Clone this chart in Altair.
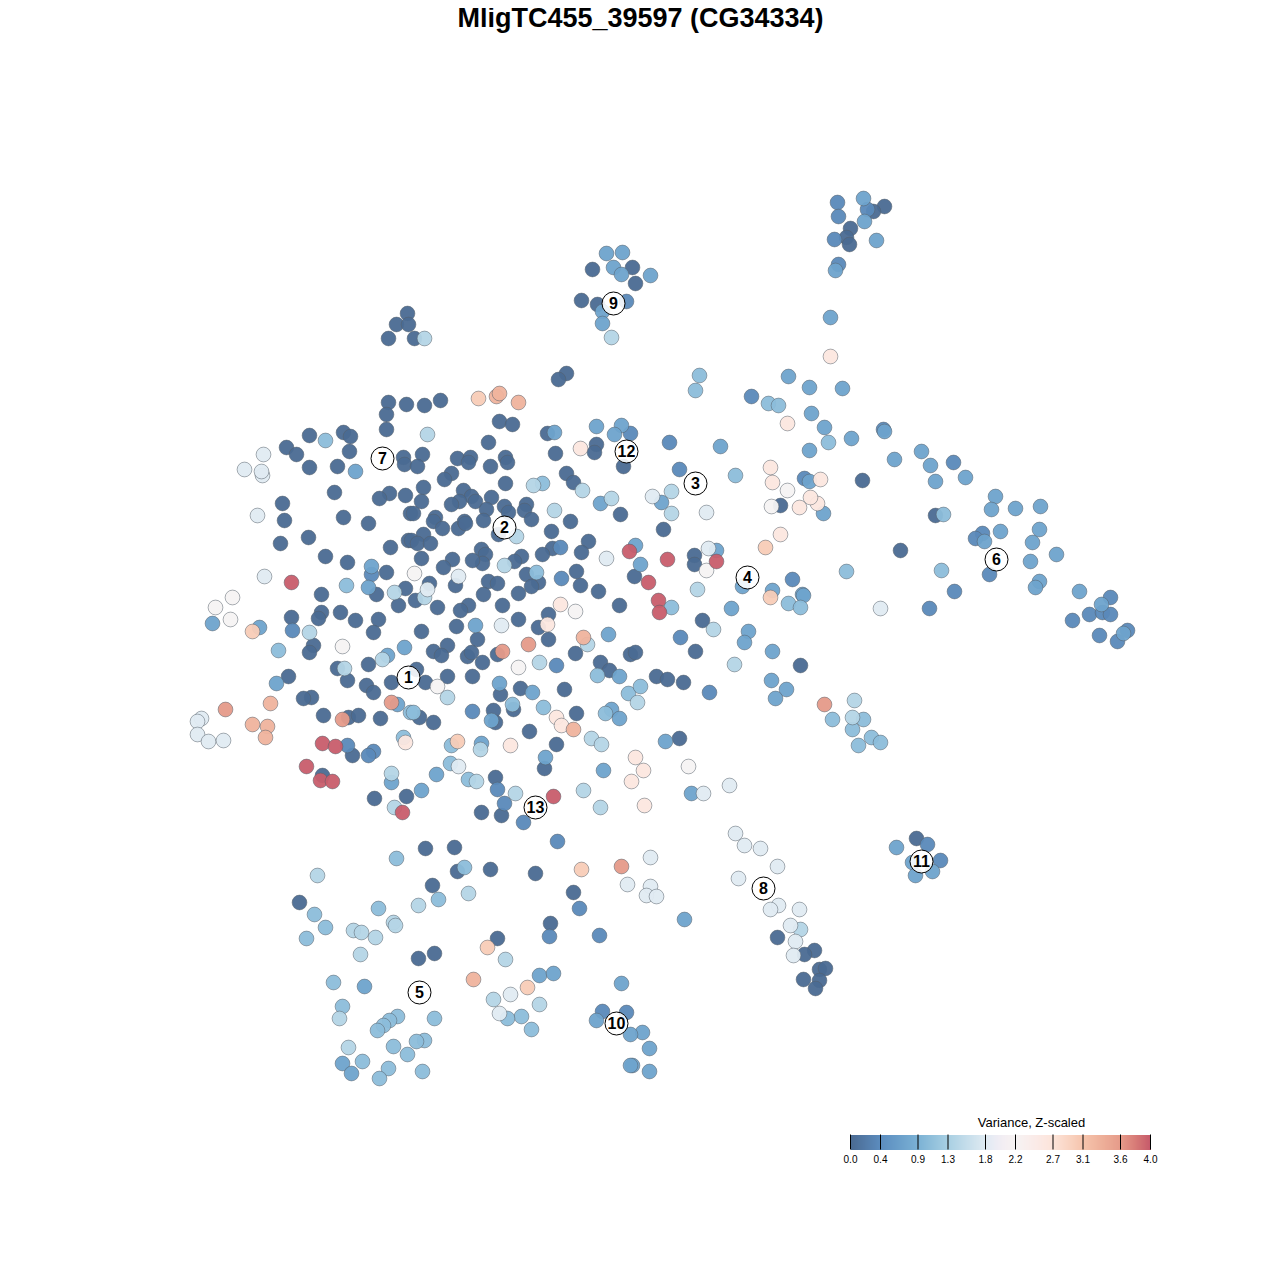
import altair as alt
import pandas as pd

TITLE = "MligTC455_39597 (CG34334)"
LEGEND_TITLE = "Variance, Z-scaled"
tick_values = [0.0, 0.4, 0.9, 1.3, 1.8, 2.2, 2.7, 3.1, 3.6, 4.0]
tick_colors = ["#4a6a92", "#5c8dbf", "#7cb2d5", "#a9d0e3", "#e0ebf2", "#f6f3f3",
               "#fce4d9", "#f6c4ac", "#e59a89", "#c5586a"]
legend_x0, legend_x1, legend_y0, legend_y1 = 850, 1150, 1134, 1149

# cluster labels, in picture coordinates
labels = [("1",408,677),("2",504,527),("3",695,483),("4",747,577),("5",419,992),("6",996,559),
          ("7",382,458),("8",763,888),("9",613,303),("10",616,1023),("11",921,861),("12",626,451),("13",535,807)]

# points grouped by read colour level
level_values = [0.0, 0.35, 0.7, 1.05, 1.4, 1.8, 2.2, 2.6, 3.0, 3.3, 3.6, 3.97]

L0 = [(884,206),(873,211),(850,228),(846,237),(849,244),(632,267),(592,269),(635,283),(581,300),(597,304),
(407,313),(396,324),(408,324),(388,338),(414,338),(566,373),(558,379),(388,402),(406,404),(424,405),(440,400),
(386,414),(386,429),(309,435),(343,432),(350,436),(286,447),(296,454),(349,451),(309,467),(337,466),(403,457),(404,464),
(334,492),(389,493),(379,498),(405,495),(282,503),(284,520),(343,517),(368,523),(410,513),(308,537),(280,543),(390,547),(408,540),
(325,556),(347,562),(386,572),(376,594),(405,588),(321,594),(398,605),(321,612),(340,612),
(499,421),(512,424),(547,433),(488,442),(596,444),(594,452),(555,453),(422,454),(457,458),(470,457),(468,462),(505,457),(507,462),
(490,466),(417,466),(623,466),(451,473),(444,479),(566,473),(573,482),(505,483),(423,487),(421,501),(463,490),(471,496),(459,501),
(451,504),(475,501),(491,497),(486,509),(504,506),(508,512),(526,504),(524,510),(531,519),(620,514),(570,521),(413,513),(435,517),
(433,521),(442,528),(458,528),(464,521),(465,523),(483,520),(498,534),(551,531),(423,534),(411,540),(417,543),(430,543),(421,558),
(588,541),(581,552),(552,548),(542,554),(481,549),(485,554),(482,563),(472,560),(452,559),(443,567),(521,556),(514,561),(526,574),
(538,582),(531,586),(576,571),(580,585),(598,591),(634,576),(455,585),(429,583),(415,600),(488,581),(497,583),(483,594),(518,593),
(437,607),(468,605),(460,610),(502,605),(548,614),(619,605),(518,619),(538,627),(456,626),(421,631),(477,639),(548,639),(575,653),
(447,645),(433,651),(441,655),(467,656),(471,652),(482,662),(497,654),(630,654),(635,652),(600,662),(609,670),(416,669),(425,682),
(447,676),(472,676),(500,694),(520,688),(564,689),(513,709),(576,713),(419,717),(433,722),(493,710),(495,722),(529,731),(556,744),
(544,768),(495,777),(481,812),(501,815),(694,555),(694,564),(663,529),(702,620),(695,651),(800,665),(656,676),(667,679),(683,682),
(679,738),(900,550),(935,515),(291,617),(318,618),(355,620),(378,619),(373,632),(313,645),(309,652),(368,664),(337,668),(347,680),
(288,676),(366,685),(373,692),(391,682),(311,697),(303,698),(323,715),(348,717),(358,715),(380,718),(352,755),(322,775),(374,798),(406,796),
(425,848),(454,847),(457,871),(490,869),(535,873),(432,885),(573,892),(299,902),(550,923),(497,938),(434,953),(418,958),
(777,937),(814,950),(804,954),(819,969),(825,968),(803,979),(819,980),(815,988),(916,838),(862,480),(780,505)]

L1 = [(837,202),(867,209),(838,216),(834,239),(838,264),(626,301),(630,433),(751,396),(883,429),(669,442),(953,462),(679,469),(804,478),
(982,533),(975,538),(989,574),(954,591),(929,608),(1110,597),(1089,614),(1102,612),(1110,614),(1072,620),(1127,630),(1099,635),(1117,641),
(371,574),(561,578),(560,547),(792,579),(680,637),(709,692),(292,630),(347,745),(373,751),(368,755),(472,711),(556,665),(497,789),(504,803),(523,822),
(557,841),(579,908),(549,936),(599,935),(602,1011),(626,1012),(927,844),(940,860)]

L2 = [(863,198),(864,221),(876,240),(835,270),(830,317),(606,253),(622,252),(613,267),(621,274),(650,275),(602,311),(602,323),
(788,376),(809,387),(842,388),(811,413),(824,427),(851,438),(884,431),(809,450),(720,446),(921,451),(894,459),(930,465),(965,477),(935,481),
(809,481),(823,513),(995,496),(991,509),(1015,508),(1040,506),(1039,529),(1000,531),(984,541),(1032,542),(1056,554),(1030,561),(1039,581),(1035,587),(1079,591),(1101,604),(1123,633),
(355,471),(371,566),(368,587),(554,432),(596,426),(621,425),(614,434),(600,503),(635,545),(640,564),(716,550),(661,502),(742,586),(772,590),(802,594),(803,595),(731,608),
(748,631),(744,642),(772,651),(771,680),(786,689),(775,698),(212,623),(259,627),(404,647),(387,655),(276,683),(397,704),(391,782),
(475,625),(608,634),(619,676),(499,683),(532,692),(611,709),(619,718),(491,720),(481,743),(545,757),(603,770),(436,774),(421,790),(665,741),(691,793),
(684,919),(539,975),(553,973),(621,983),(596,1020),(642,1032),(630,1034),(649,1048),(632,1065),(630,1065),(649,1071),(896,847),(912,862),(915,875),(932,871),
(342,1063),(351,1073),(364,986)]

L3 = [(325,440),(346,585),(542,483),(536,572),(671,607),(278,650),(846,571),(735,475),(410,712),(597,675),(628,693),(640,686),(605,713),(512,704),(543,707),(413,712),
(403,737),(450,763),(451,745),(468,779),(768,403),(778,405),(828,442),(788,603),(800,607),(941,570),(943,514),(699,375),(695,390),(863,719),(832,719),(852,729),(871,737),(880,742),(858,745),
(396,858),(464,867),(438,899),(378,908),(325,927),(314,914),(306,938),(333,982),(397,1016),(389,1020),(434,1018),(521,1016),(507,1018),(383,1025),(377,1030),(531,1029),
(424,1040),(416,1041),(393,1046),(407,1054),(362,1061),(388,1068),(422,1071),(379,1078),(342,1006)]

L4 = [(424,338),(611,337),(427,434),(533,485),(582,490),(611,498),(516,536),(554,510),(394,592),(504,565),(424,597),(671,491),(671,513),(697,589),(713,629),(734,664),
(854,700),(852,717),(309,632),(382,659),(344,668),(539,662),(587,644),(637,702),(447,697),(591,738),(601,744),(480,749),(476,781),(515,793),(583,790),(600,807),(391,773),(394,807),
(317,875),(468,893),(418,905),(393,922),(395,925),(353,930),(361,932),(375,937),(360,954),(505,959),(493,999),(539,1004),(348,1047),(339,1018),(800,929)]

L5 = [(263,454),(244,469),(262,475),(261,471),(257,515),(264,576),(606,558),(458,576),(427,589),(652,496),(706,512),(708,548),(880,608),(501,625),(458,766),
(201,718),(197,721),(197,734),(208,741),(223,740),(703,793),(729,785),(650,857),(627,884),(650,886),(646,895),(656,896),(510,994),(499,1013),
(735,833),(744,845),(760,848),(777,866),(738,878),(778,905),(770,909),(799,909),(790,925),(795,941),(793,955)]

L6 = [(232,597),(215,607),(230,619),(342,646),(414,573),(575,611),(518,667),(437,686),(706,570),(688,766),(787,490),(771,506)]

L7 = [(830,356),(787,423),(580,448),(770,467),(817,503),(772,482),(820,479),(810,497),(799,507),(780,534),(560,604),(547,624),(556,717),(561,725),(510,745),(405,742),
(635,757),(643,770),(631,781),(644,805)]

L8 = [(478,398),(765,547),(770,597),(252,631),(457,741),(581,869),(487,947),(527,987)]

L9 = [(496,396),(499,393),(518,402),(583,637),(573,729),(270,703),(252,724),(267,726),(265,737),(473,979)]

L10 = [(528,644),(502,651),(391,702),(342,719),(824,704),(621,866),(225,709)]

L11 = [(629,551),(667,559),(648,582),(658,600),(659,612),(716,561),(291,582),(322,743),(335,746),(306,766),(320,780),(332,781),(402,812),(553,796)]

levels = [L0, L1, L2, L3, L4, L5, L6, L7, L8, L9, L10, L11]

rows = [{"x": p[0], "y": p[1], "v": val} for val, pts in zip(level_values, levels) for p in pts]
points_df = pd.DataFrame(rows)
labels_df = pd.DataFrame(labels, columns=["t", "x", "y"])

xs = alt.Scale(domain=[7.5, 1271.5], range=[0, 1264], nice=False, zero=False)
ys = alt.Scale(domain=[1271.5, 7.5], range=[1264, 0], nice=False, zero=False)
cs = alt.Scale(domain=tick_values, range=tick_colors, clamp=True)
X = alt.X("x:Q", scale=xs, axis=None)
Y = alt.Y("y:Q", scale=ys, axis=None)

points = alt.Chart(points_df).mark_point(
    filled=True, shape="circle", size=218, fillOpacity=0.95, stroke="#55606a", strokeWidth=1, strokeOpacity=0.5
).encode(x=X, y=Y, fill=alt.Fill("v:Q", scale=cs, legend=None))

circles = alt.Chart(labels_df).mark_point(
    filled=True, shape="circle", size=529, fill="white", fillOpacity=0.88, stroke="black", strokeWidth=1, strokeOpacity=1
).encode(x=X, y=Y)
label_text = alt.Chart(labels_df).mark_text(
    font="Liberation Sans", fontSize=16, fontWeight="bold", color="black", align="center", baseline="middle"
).encode(x=X, y=Y, text="t:N")

# colour bar drawn from the same colour scale; edges sit on whole pixels
n_cells = legend_x1 - legend_x0
strip_df = pd.DataFrame({
    "x": [legend_x0 + 0.5 + i for i in range(n_cells)],
    "x2": [legend_x0 + 0.5 + i + 1 for i in range(n_cells)],
    "y": [legend_y0 + 0.5] * n_cells,
    "y2": [legend_y1 + 0.5] * n_cells,
    "v": [4.0 * (i + 0.5) / n_cells for i in range(n_cells)],
})
strip = alt.Chart(strip_df).mark_rect(strokeWidth=0).encode(
    x=X, x2="x2:Q", y=Y, y2="y2:Q", fill=alt.Fill("v:Q", scale=cs, legend=None)
)
tick_df = pd.DataFrame({
    "x": [legend_x0 + v / 4.0 * (legend_x1 - legend_x0) for v in tick_values],
    "y": [legend_y0] * len(tick_values),
    "y2": [legend_y1] * len(tick_values),
    "t": [f"{v:.1f}" for v in tick_values],
    "ty": [1159] * len(tick_values),
})
ticks = alt.Chart(tick_df).mark_rule(color="black", strokeWidth=1).encode(x=X, y=Y, y2="y2:Q")
tick_labels = alt.Chart(tick_df).mark_text(
    font="Liberation Sans", fontSize=10, color="black", align="center", baseline="middle"
).encode(x=X, y=alt.Y("ty:Q", scale=ys, axis=None), text="t:N")

legend_title = alt.Chart(pd.DataFrame({"x": [1031], "y": [1122], "t": [LEGEND_TITLE]})).mark_text(
    font="Liberation Sans", fontSize=13, color="black", align="center", baseline="middle"
).encode(x=X, y=Y, text="t:N")
title = alt.Chart(pd.DataFrame({"x": [640], "y": [18], "t": [TITLE]})).mark_text(
    font="Liberation Sans", fontSize=27, fontWeight="bold", color="black", align="center", baseline="middle"
).encode(x=X, y=Y, text="t:N")

chart = alt.layer(points, circles, label_text, strip, ticks, tick_labels, legend_title, title).properties(
    width=1264, height=1264, padding=0, autosize=alt.AutoSizeParams(type="none")
).configure_view(stroke=None).resolve_scale(fill="shared")

chart.save("out.html", embed_options={"renderer": "svg", "actions": False})
